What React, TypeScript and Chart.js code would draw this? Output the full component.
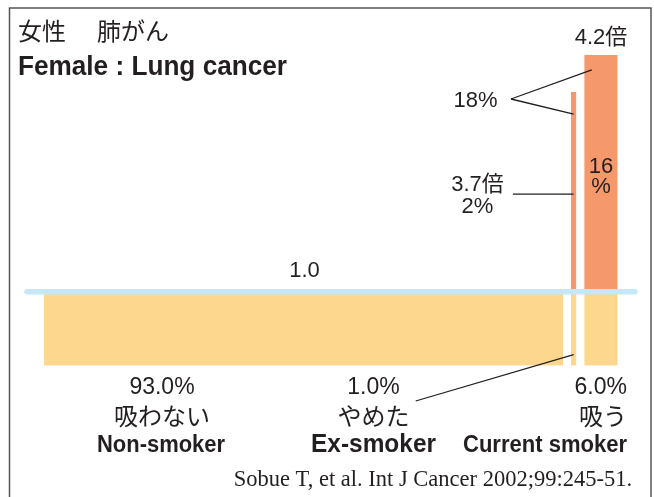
import React, { useEffect, useRef } from "react";
import { Chart, registerables } from "chart.js";

Chart.register(...registerables);

// ---- data ----
const groupsEn = ["Non-smoker", "Ex-smoker", "Current smoker"];
const groupsJa = ["吸わない", "やめた", "吸う"];
const populationShare = [93.0, 1.0, 6.0]; // % of women
const relativeRisk = [1.0, 3.7, 4.2]; // relative risk (倍)
const attributablePct = [0, 2, 16]; // % of cases attributable
const totalAttributablePct = 18;
const titleJa = ["女性", "肺がん"];
const titleEn = "Female : Lung cancer";
const citation = "Sobue T, et al. Int J Cancer 2002;99:245-51.";

// ---- layout / style ----
const W = 654;
const H = 497;
const GAP = 1.4; // gap between bars, in x units
const X_MIN = -3.05;
const X_MAX = 105.9;
const YELLOW = "#fdd78e";
const ORANGE = "#f5986b";
const BLUE = "#c6e7f5";
const INK = "#231f20";
const SANS = '"Liberation Sans", Arial, "Noto Sans CJK JP", sans-serif';
const JA = '"Noto Sans CJK JP", sans-serif';
const SERIF = '"Liberation Serif", "Times New Roman", serif';

const starts: number[] = [];
{
  let acc = 0;
  populationShare.forEach((s) => {
    starts.push(acc);
    acc += s + GAP;
  });
}
const ends = starts.map((s, i) => s + populationShare[i]);
const centers = starts.map((s, i) => (s + ends[i]) / 2);

export default function App() {
  const ref = useRef<HTMLCanvasElement | null>(null);

  useEffect(() => {
    if (!ref.current) return;

    const datasets: any[] = [];
    // baseline at relative risk 1.0 (first => drawn on top)
    datasets.push({
      data: [
        { x: X_MIN, y: relativeRisk[0] },
        { x: X_MAX, y: relativeRisk[0] },
      ],
      borderColor: BLUE,
      borderWidth: 5.5,
      borderCapStyle: "round",
      pointRadius: 0,
      showLine: true,
      fill: false,
      clip: false,
    });
    // excess risk (orange)
    relativeRisk.forEach((r, i) => {
      if (r <= relativeRisk[0]) return;
      datasets.push({
        data: [
          { x: starts[i], y: r },
          { x: ends[i], y: r },
        ],
        borderWidth: 0,
        borderColor: "transparent",
        backgroundColor: ORANGE,
        pointRadius: 0,
        showLine: true,
        fill: { value: relativeRisk[0] },
      });
    });
    // population share (yellow)
    populationShare.forEach((_, i) => {
      datasets.push({
        data: [
          { x: starts[i], y: relativeRisk[0] },
          { x: ends[i], y: relativeRisk[0] },
        ],
        borderWidth: 0,
        borderColor: "transparent",
        backgroundColor: YELLOW,
        pointRadius: 0,
        showLine: true,
        fill: { value: 0 },
      });
    });

    const annotate = {
      id: "annotate",
      beforeDraw(chart: any) {
        const ctx = chart.ctx;
        ctx.save();
        ctx.strokeStyle = "#555";
        ctx.lineWidth = 1.5;
        ctx.beginPath();
        ctx.moveTo(9.5, H);
        ctx.lineTo(9.5, 8);
        ctx.lineTo(651, 8);
        ctx.lineTo(651, H);
        ctx.stroke();
        ctx.restore();
      },
      afterDraw(chart: any) {
        const ctx = chart.ctx;
        const xs = chart.scales.x;
        const ys = chart.scales.y;
        const px = (v: number) => xs.getPixelForValue(v);
        const py = (v: number) => ys.getPixelForValue(v);
        const txt = (
          s: string,
          x: number,
          y: number,
          font: string,
          align: CanvasTextAlign = "center",
          maxW?: number
        ) => {
          ctx.font = font;
          ctx.textAlign = align;
          ctx.textBaseline = "alphabetic";
          ctx.fillStyle = INK;
          if (maxW) ctx.fillText(s, x, y, maxW);
          else ctx.fillText(s, x, y);
        };
        const line = (x1: number, y1: number, x2: number, y2: number) => {
          ctx.beginPath();
          ctx.moveTo(x1, y1);
          ctx.lineTo(x2, y2);
          ctx.stroke();
        };
        ctx.save();
        ctx.strokeStyle = INK;
        ctx.lineWidth = 1.3;

        // titles
        txt(titleJa[0], 18, 40, `24px ${JA}`, "left");
        txt(titleJa[1], 97, 40, `24px ${JA}`, "left");
        txt(titleEn, 18, 75, `bold 28px ${SANS}`, "left", 269);

        // relative risk labels
        const cur = 2;
        const ex = 1;
        txt(
          relativeRisk[cur].toFixed(1) + "倍",
          px(centers[cur]),
          py(relativeRisk[cur]) - 11,
          `22px ${SANS}`
        );
        txt(relativeRisk[0].toFixed(1), px(centers[0]) + 1, py(relativeRisk[0]) - 14.5, `22px ${SANS}`);
        txt(String(attributablePct[cur]), px(centers[cur]), 173, `22px ${SANS}`);
        txt("%", px(centers[cur]), 193, `22px ${SANS}`);

        // 18% with pointers
        txt(totalAttributablePct + "%", 475.5, 107, `22px ${SANS}`);
        line(511, 99, px(starts[cur] + 1.35), py(4.0));
        line(511, 99, px(centers[ex]), py(3.4));

        // ex-smoker 3.7倍 / 2%
        txt(relativeRisk[ex].toFixed(1) + "倍", 477.5, 191, `22px ${SANS}`);
        txt(attributablePct[ex] + "%", 477.5, 213, `22px ${SANS}`);
        const yl = py(2.32);
        line(513, yl, px(centers[ex]), yl);

        // pointer from ex-smoker share bar to label
        line(px(centers[ex]), py(0.15), 415.7, 401);

        // bottom labels
        const cx = [162, 373.5, 627];
        const al: CanvasTextAlign[] = ["center", "center", "right"];
        const enFont = [`bold 23px ${SANS}`, `bold 25px ${SANS}`, `bold 23px ${SANS}`];
        const enMax = [128, 125, 164];
        for (let i = 0; i < 3; i++) {
          txt(populationShare[i].toFixed(1) + "%", cx[i], 394, `23px ${SANS}`, al[i]);
          txt(groupsJa[i], cx[i], 425, `24px ${JA}`, al[i]);
          txt(groupsEn[i], i === 0 ? 161 : cx[i], 452, enFont[i], al[i], enMax[i]);
        }

        // citation
        txt(citation, 632, 486, `22.5px ${SERIF}`, "right");
        ctx.restore();
      },
    };

    const chart = new Chart(ref.current, {
      type: "scatter",
      data: { datasets },
      options: {
        animation: false,
        responsive: false,
        events: [],
        layout: { padding: { left: 27, right: W - 635, top: 55, bottom: H - 365.7 } },
        plugins: { legend: { display: false }, tooltip: { enabled: false } },
        scales: {
          x: { type: "linear", min: X_MIN, max: X_MAX, display: false },
          y: { type: "linear", min: 0, max: 4.2, display: false },
        },
      },
      plugins: [annotate],
    });
    return () => chart.destroy();
  }, []);

  return (
    <div style={{ position: "absolute", left: 0, top: 0, width: W, height: H, background: "#fff" }}>
      <canvas ref={ref} width={W} height={H} style={{ width: W, height: H }} />
    </div>
  );
}
